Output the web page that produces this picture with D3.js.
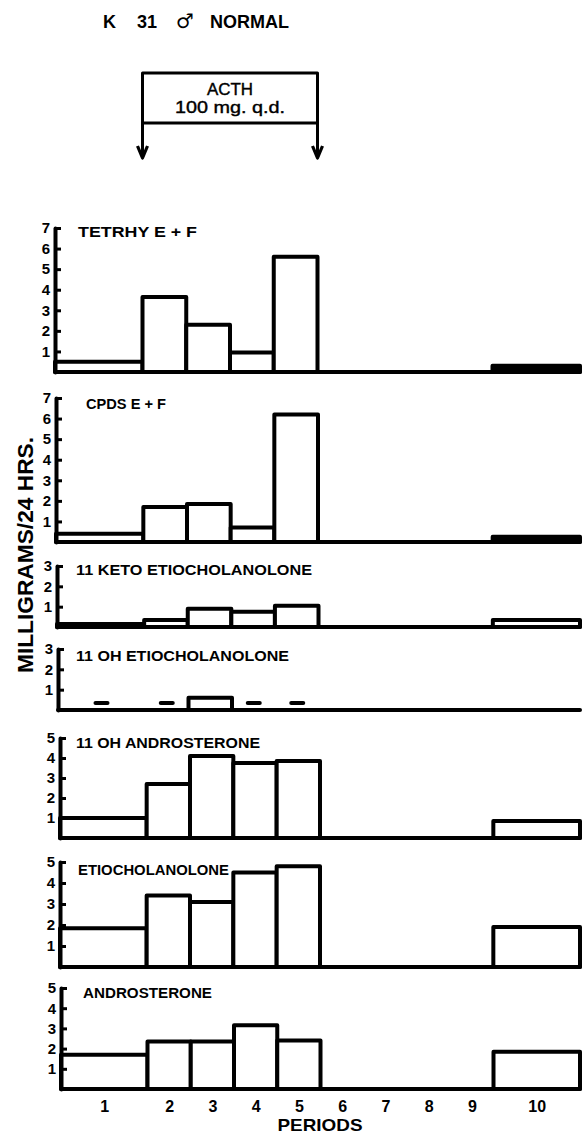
<!DOCTYPE html>
<html><head><meta charset="utf-8">
<script src="https://cdn.jsdelivr.net/npm/d3@7"></script>
<style>html,body{margin:0;padding:0;background:#fff}svg{display:block}</style>
</head><body>
<svg id="c" width="582" height="1137"></svg>
<script>
// ---------------- DATA ----------------
const titleParts = ["K", "31", "\u2642", "NORMAL"];
const treatmentLines = ["ACTH", "100 mg. q.d."];
const periods = ["1","2","3","4","5","6","7","8","9","10"];
const periodUnits = [2,1,1,1,1,1,1,1,1,2];          // relative length of each period
const treatmentPeriods = [2, 5];                    // ACTH given from period 2 through 5
const panelNames = ["TETRHY E + F","CPDS E + F","11 KETO ETIOCHOLANOLONE","11 OH ETIOCHOLANOLONE","11 OH ANDROSTERONE","ETIOCHOLANOLONE","ANDROSTERONE"];
const panelMax = [7,7,3,3,5,5,5];
const tetrahyEF = [0.5,3.65,2.3,0.95,5.6,null,null,null,null,0.3];
const cpdsEF    = [0.4,1.7,1.85,0.7,6.2,null,null,null,null,0.25];
const ketoEtio  = [0.15,0.35,0.9,0.75,1.05,null,null,null,null,0.35];
const ohEtio    = [null,null,0.6,null,null,null,null,null,null,null];
const ohEtioTrace = [0.35,0.35,null,0.35,0.35,null,null,null,null,null];
const ohAndro   = [1.0,2.7,4.1,3.75,3.85,null,null,null,null,0.85];
const etio      = [1.85,3.4,3.1,4.5,4.8,null,null,null,null,1.9];
const andro     = [1.7,2.35,2.35,3.15,2.4,null,null,null,null,1.85];
const yAxisTitle = "MILLIGRAMS/24 HRS.";
const xAxisTitle = "PERIODS";

const series = [tetrahyEF, cpdsEF, ketoEtio, ohEtio, ohAndro, etio, andro];
const traces = [null, null, null, ohEtioTrace, null, null, null];

// ---------------- LAYOUT ----------------
const panelTop  = [228, 398, 566, 649, 738, 862, 988];
const panelBase = [372, 542, 627, 710, 838, 967, 1089];
const panelLeft = [55, 56, 57, 58, 60, 60, 61];
const rightEdge = 580;
const labelX   = [78, 86, 76, 76, 76, 78, 83];
const labelLen = [119, 80, 236, 213, 184, 151, 129];
const labelDy  = [4, 6, 4, 7, 5, 8, 5];
const FONT = "'Liberation Sans', Arial, 'DejaVu Sans', sans-serif";
const SW = 4;

const svg = d3.select("#c");
const totalUnits = d3.sum(periodUnits);
const starts = periodUnits.map((u, i) => d3.sum(periodUnits.slice(0, i)));

function xScaleFor(i) {
  return d3.scaleLinear().domain([0, totalUnits]).range([panelLeft[i], rightEdge]);
}

// ---------------- TITLE ----------------
const titleX = [103, 137, 176, 210];
svg.append("g").selectAll("text").data(titleParts).join("text")
  .attr("x", (d, i) => titleX[i]).attr("y", 28)
  .attr("font-family", (d) => d === "\u2642" ? "'DejaVu Sans', sans-serif" : FONT)
  .attr("font-weight", "bold").attr("font-size", (d) => d === "\u2642" ? 20 : 18)
  .attr("textLength", (d) => d === "NORMAL" ? 79 : null)
  .attr("lengthAdjust", "spacingAndGlyphs")
  .text(d => d);

// ---------------- ACTH BOX ----------------
{
  const x0 = xScaleFor(0);
  const xa = x0(starts[treatmentPeriods[0] - 1]);
  const xb = x0(starts[treatmentPeriods[1] - 1] + periodUnits[treatmentPeriods[1] - 1]);
  const g = svg.append("g").attr("stroke", "#000").attr("stroke-width", 3).attr("fill", "none")
    .attr("stroke-linejoin", "round");
  g.append("rect").attr("x", xa).attr("y", 73).attr("width", xb - xa).attr("height", 50);
  [xa, xb].forEach(x => {
    g.append("line").attr("x1", x).attr("x2", x).attr("y1", 123).attr("y2", 157);
    g.append("path").attr("d", `M${x - 5},${146} L${x},${158} L${x + 5},${146}`)
      .attr("stroke-width", 3.2);
  });
  const cx = (xa + xb) / 2;
  svg.append("text").attr("x", cx).attr("y", 95).attr("text-anchor", "middle")
    .attr("font-family", FONT).attr("font-size", 17).attr("textLength", 46)
    .attr("stroke", "#000").attr("stroke-width", 0.4)
    .attr("lengthAdjust", "spacingAndGlyphs").text(treatmentLines[0]);
  svg.append("text").attr("x", cx).attr("y", 113).attr("text-anchor", "middle")
    .attr("font-family", FONT).attr("font-size", 17).attr("textLength", 110)
    .attr("stroke", "#000").attr("stroke-width", 0.4)
    .attr("lengthAdjust", "spacingAndGlyphs").text(treatmentLines[1]);
}

// ---------------- PANELS ----------------
series.forEach((vals, i) => {
  const x = xScaleFor(i);
  const y = d3.scaleLinear().domain([0, panelMax[i]]).range([panelBase[i], panelTop[i]]);
  const g = svg.append("g");

  // baseline
  g.append("line").attr("x1", x(0)).attr("x2", x(totalUnits))
    .attr("y1", y(0)).attr("y2", y(0))
    .attr("stroke", "#000").attr("stroke-width", SW).attr("stroke-linecap", "round");

  // bars
  const bars = vals.map((v, k) => ({v, k})).filter(d => d.v != null);
  g.selectAll("rect.bar").data(bars).join("rect").attr("class", "bar")
    .attr("x", d => x(starts[d.k]))
    .attr("width", d => x(starts[d.k] + periodUnits[d.k]) - x(starts[d.k]))
    .attr("y", d => y(d.v))
    .attr("height", d => y(0) - y(d.v))
    .attr("fill", d => (y(0) - y(d.v)) < 6.5 ? "#000" : "#fff")
    .attr("stroke", "#000").attr("stroke-width", SW).attr("stroke-linejoin", "round");

  // trace dashes
  if (traces[i]) {
    const tr = traces[i].map((v, k) => ({v, k})).filter(d => d.v != null);
    g.selectAll("line.trace").data(tr).join("line").attr("class", "trace")
      .attr("x1", d => x(starts[d.k] + periodUnits[d.k] / 2) - 6)
      .attr("x2", d => x(starts[d.k] + periodUnits[d.k] / 2) + 6)
      .attr("y1", d => y(d.v)).attr("y2", d => y(d.v))
      .attr("stroke", "#000").attr("stroke-width", SW).attr("stroke-linecap", "round");
  }

  // y axis
  const ax = g.append("g").attr("transform", `translate(${x(0)},0)`)
    .call(d3.axisLeft(y).tickValues(d3.range(1, panelMax[i] + 1))
      .tickSize(-6).tickSizeOuter(0).tickPadding(5).tickFormat(d3.format("d")));
  ax.select(".domain").attr("stroke-width", SW).attr("stroke-linecap", "round");
  ax.selectAll(".tick line").attr("stroke-width", 3);
  ax.selectAll(".tick text").attr("font-family", FONT).attr("font-weight", "bold")
    .attr("font-size", 15).attr("fill", "#000");

  // label
  g.append("text").attr("x", labelX[i]).attr("y", panelTop[i] + labelDy[i])
    .attr("dy", "0.36em").attr("font-family", FONT).attr("font-weight", "bold")
    .attr("font-size", 14).attr("textLength", labelLen[i])
    .attr("lengthAdjust", "spacingAndGlyphs").text(panelNames[i]);
});

// ---------------- X AXIS (bottom) ----------------
{
  const last = series.length - 1;
  const x = xScaleFor(last);
  const centers = periods.map((p, k) => starts[k] + periodUnits[k] / 2);
  const ax = svg.append("g").attr("transform", `translate(0,${panelBase[last] + 8})`)
    .call(d3.axisBottom(x).tickValues(centers).tickSize(0).tickPadding(4)
      .tickFormat((d, k) => periods[k]));
  ax.select(".domain").remove();
  ax.selectAll(".tick text").attr("font-family", FONT).attr("font-weight", "bold")
    .attr("font-size", 16).attr("fill", "#000");

  svg.append("text").attr("x", 320).attr("y", 1131).attr("text-anchor", "middle")
    .attr("font-family", FONT).attr("font-weight", "bold").attr("font-size", 17)
    .attr("textLength", 85).attr("lengthAdjust", "spacingAndGlyphs").text(xAxisTitle);
}

// ---------------- Y AXIS TITLE ----------------
svg.append("text").attr("transform", "translate(25,555) rotate(-90)")
  .attr("text-anchor", "middle").attr("dy", "0.36em")
  .attr("font-family", FONT).attr("font-weight", "bold").attr("font-size", 22)
  .attr("textLength", 236).attr("lengthAdjust", "spacingAndGlyphs").text(yAxisTitle);
</script>
</body></html>
